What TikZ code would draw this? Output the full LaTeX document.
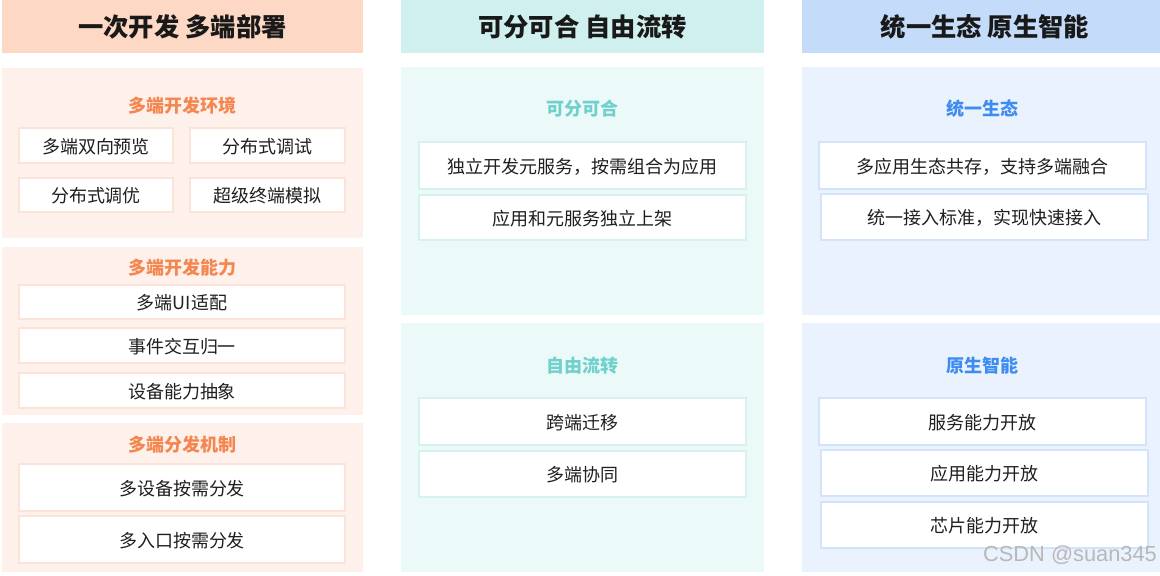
\documentclass[tikz,border=0pt]{standalone}
\usepackage{fontspec}
\setmainfont{Noto Sans CJK SC}
\newfontfamily\wmfont{Liberation Sans}
\usetikzlibrary{positioning}

\definecolor{orghead}{HTML}{FDD8C4}
\definecolor{orgpanel}{HTML}{FEF1EC}
\definecolor{orgtitle}{HTML}{F4864F}
\definecolor{orgline}{HTML}{FBE3D8}
\definecolor{cyanhead}{HTML}{CFF0EE}
\definecolor{cyanpanel}{HTML}{EBF9F8}
\definecolor{cyantitle}{HTML}{6FD0CC}
\definecolor{cyanline}{HTML}{D5F1F0}
\definecolor{bluehead}{HTML}{C4DCFA}
\definecolor{bluepanel}{HTML}{EAF2FE}
\definecolor{bluetitle}{HTML}{3F8CF0}
\definecolor{blueline}{HTML}{D3E4FA}

\tikzset{
  headtxt/.style={font=\fontsize{18}{21}\selectfont\bfseries, text=black!90},
  subtxt/.style={font=\fontsize{12.8}{15}\selectfont\bfseries},
  itemtxt/.style={font=\fontsize{12.8}{15}\selectfont, text=black!88},
  orgbox/.style={fill=white, draw=orgline, line width=1pt},
  cyanbox/.style={fill=white, draw=cyanline, line width=1pt},
  bluebox/.style={fill=white, draw=blueline, line width=1pt}
}

\begin{document}
\begin{tikzpicture}[x=0.025cm, y=-0.025cm]
		\useasboundingbox (0,0) rectangle (1160,576);
		
		%%%%% column 1 %%%%%
		\fill[orghead] (2,0) rectangle (363,53);
		\node[headtxt] (head1) at (182.5,27) {一次开发 多端部署};
		
		\fill[orgpanel] (2,68) rectangle (363,238);
		\node[subtxt, text=orgtitle] (env) at (182.5,106) {多端开发环境};
		\draw[orgbox] (19,128) rectangle (173,163);
		\node[itemtxt] (env1) at (96,146.5) {多端双向预览};
		\draw[orgbox] (190,128) rectangle (345,163);
		\node[itemtxt] (env2) at (267.5,146.5) {分布式调试};
		\draw[orgbox] (19,178) rectangle (173,212);
		\node[itemtxt] (env3) at (96,196) {分布式调优};
		\draw[orgbox] (190,178) rectangle (345,212);
		\node[itemtxt] (env4) at (267.5,196) {超级终端模拟};
		
		\fill[orgpanel] (2,247) rectangle (363,415);
		\node[subtxt, text=orgtitle] (cap) at (182.5,268) {多端开发能力};
		\draw[orgbox] (19,285) rectangle (345,319);
		\node[itemtxt] (cap1) at (182,303) {多端UI适配};
		\draw[orgbox] (19,328) rectangle (345,363);
		\node[itemtxt] (cap2) at (182,346.5) {事件交互归一};
		\draw[orgbox] (19,373) rectangle (345,408);
		\node[itemtxt] (cap3) at (182,391.5) {设备能力抽象};
		
		\fill[orgpanel] (2,423) rectangle (363,572);
		\node[subtxt, text=orgtitle] (dist) at (182.5,445) {多端分发机制};
		\draw[orgbox] (19,464) rectangle (345,511);
		\node[itemtxt] (dist1) at (182,488.5) {多设备按需分发};
		\draw[orgbox] (19,516) rectangle (345,563);
		\node[itemtxt] (dist2) at (182,540.5) {多入口按需分发};
		
		%%%%% column 2 %%%%%
		\fill[cyanhead] (401,0) rectangle (764,53);
		\node[headtxt] (head2) at (582.5,27) {可分可合 自由流转};
		
		\fill[cyanpanel] (401,67) rectangle (764,315);
		\node[subtxt, text=cyantitle] (split) at (582.5,109) {可分可合};
		\draw[cyanbox] (419,142) rectangle (746,189);
		\node[itemtxt] (split1) at (582.5,166.5) {独立开发元服务，按需组合为应用};
		\draw[cyanbox] (419,195) rectangle (746,240);
		\node[itemtxt] (split2) at (582.5,218.5) {应用和元服务独立上架};
		
		\fill[cyanpanel] (401,323) rectangle (764,572);
		\node[subtxt, text=cyantitle] (flow) at (582.5,366) {自由流转};
		\draw[cyanbox] (419,398) rectangle (746,445);
		\node[itemtxt] (flow1) at (582.5,422.5) {跨端迁移};
		\draw[cyanbox] (419,451) rectangle (746,497);
		\node[itemtxt] (flow2) at (582.5,475) {多端协同};
		
		%%%%% column 3 %%%%%
		\fill[bluehead] (802,0) rectangle (1160,53);
		\node[headtxt] (head3) at (985,27) {统一生态 原生智能};
		
		\fill[bluepanel] (802,67) rectangle (1160,315);
		\node[subtxt, text=bluetitle] (eco) at (982.5,109) {统一生态};
		\draw[bluebox] (819,142) rectangle (1146,189);
		\node[itemtxt] (eco1) at (982.5,166.5) {多应用生态共存，支持多端融合};
		\draw[bluebox] (821,194) rectangle (1148,240);
		\node[itemtxt] (eco2) at (984.5,218) {统一接入标准，实现快速接入};
		
		\fill[bluepanel] (802,323) rectangle (1160,572);
		\node[subtxt, text=bluetitle] (ai) at (982.5,366) {原生智能};
		\draw[bluebox] (819,398) rectangle (1146,445);
		\node[itemtxt] (ai1) at (982.5,422.5) {服务能力开放};
		\draw[bluebox] (821,450) rectangle (1148,496);
		\node[itemtxt] (ai2) at (984.5,474) {应用能力开放};
		\draw[bluebox] (821,502) rectangle (1148,548);
		\node[itemtxt] (ai3) at (984.5,526) {芯片能力开放};
		
		\node[font=\wmfont\fontsize{15.5}{18}\selectfont, text=black!28] (mark) at (1070,555) {CSDN @suan345};
	\end{tikzpicture}
\end{document}
